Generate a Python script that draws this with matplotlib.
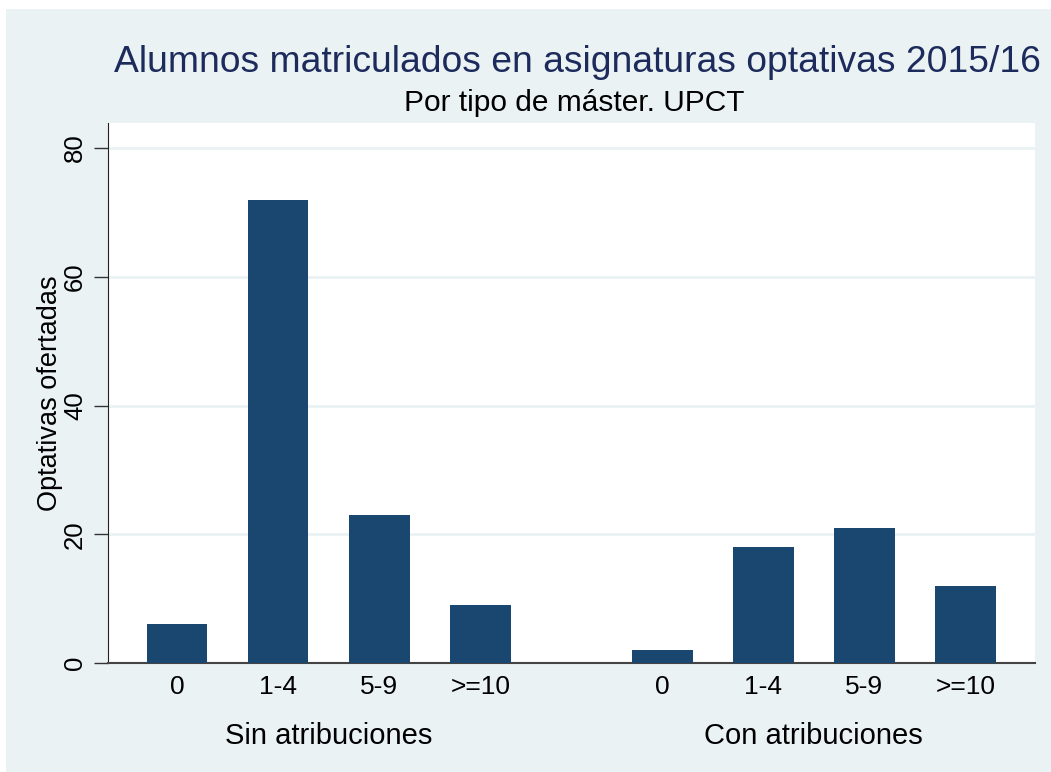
"""Optativas ofertadas por número de alumnos matriculados, UPCT 2015/16."""
import matplotlib
matplotlib.use("Agg")
import matplotlib.pyplot as plt
from matplotlib.patches import Rectangle

plt.rcParams["font.family"] = ["Liberation Sans", "DejaVu Sans"]

BG = "#eaf2f3"
BAR = "#1a476f"
TITLE = "#1c2b5c"

groups = ["Sin atribuciones", "Con atribuciones"]
categories = ["0", "1-4", "5-9", ">=10"]
sin_values = [6, 72, 23, 9]
con_values = [2, 18, 21, 12]
y_ticks = [0, 20, 40, 60, 80]

W, H = 1051, 772
fig = plt.figure(figsize=(W / 100, H / 100), dpi=100)
fig.patch.set_facecolor(BG)
# thin white strips on the left and top edges
fig.patches.append(Rectangle((0, 0), 6 / W, 1, transform=fig.transFigure,
                             facecolor="white", edgecolor="none"))
fig.patches.append(Rectangle((0, 1 - 9 / H), 1, 9 / H, transform=fig.transFigure,
                             facecolor="white", edgecolor="none"))

ax = fig.add_axes([108 / W, 1 - 663 / H, 927 / W, 540 / H])
ax.set_facecolor("white")

gap = 1.8
x_sin = list(range(len(categories)))
x_con = [x + len(categories) + gap - 1 for x in x_sin]
ax.bar(x_sin, sin_values, width=0.6, color=BAR, zorder=3)
ax.bar(x_con, con_values, width=0.6, color=BAR, zorder=3)

ax.set_xlim(-0.683, x_con[-1] + 0.688)
ax.set_ylim(0, 83.9)
ax.set_yticks(y_ticks)
ax.set_yticklabels([str(t) for t in y_ticks], rotation=90, va="center", fontsize=18.5)
ax.tick_params(axis="y", length=10, width=1, color="#333333", pad=5)
ax.set_xticks(x_sin + x_con)
ax.set_xticklabels(categories + categories, fontsize=19)
ax.tick_params(axis="x", length=0, pad=9)
ax.grid(True, axis="y", color=BG, linewidth=2, zorder=0)

for side in ["top", "right"]:
    ax.spines[side].set_visible(False)
ax.spines["left"].set_color("#222222")
ax.spines["bottom"].set_color("#444444")
ax.spines["bottom"].set_linewidth(1.5)

ax.set_ylabel("Optativas ofertadas", fontsize=19.5, labelpad=0)

for label, xs in zip(groups, [x_sin, x_con]):
    ax.text((xs[0] + xs[-1]) / 2, -0.135, label, fontsize=21,
            transform=ax.get_xaxis_transform(), ha="center", va="center")

fig.text(577 / W, 1 - 62 / H,
         "Alumnos matriculados en asignaturas optativas 2015/16",
         fontsize=26.8, color=TITLE, ha="center", va="center")
fig.text(574 / W, 1 - 103 / H, "Por tipo de máster. UPCT",
         fontsize=21.5, color="black", ha="center", va="center")

fig.savefig("out.png", dpi=100, facecolor=BG)
